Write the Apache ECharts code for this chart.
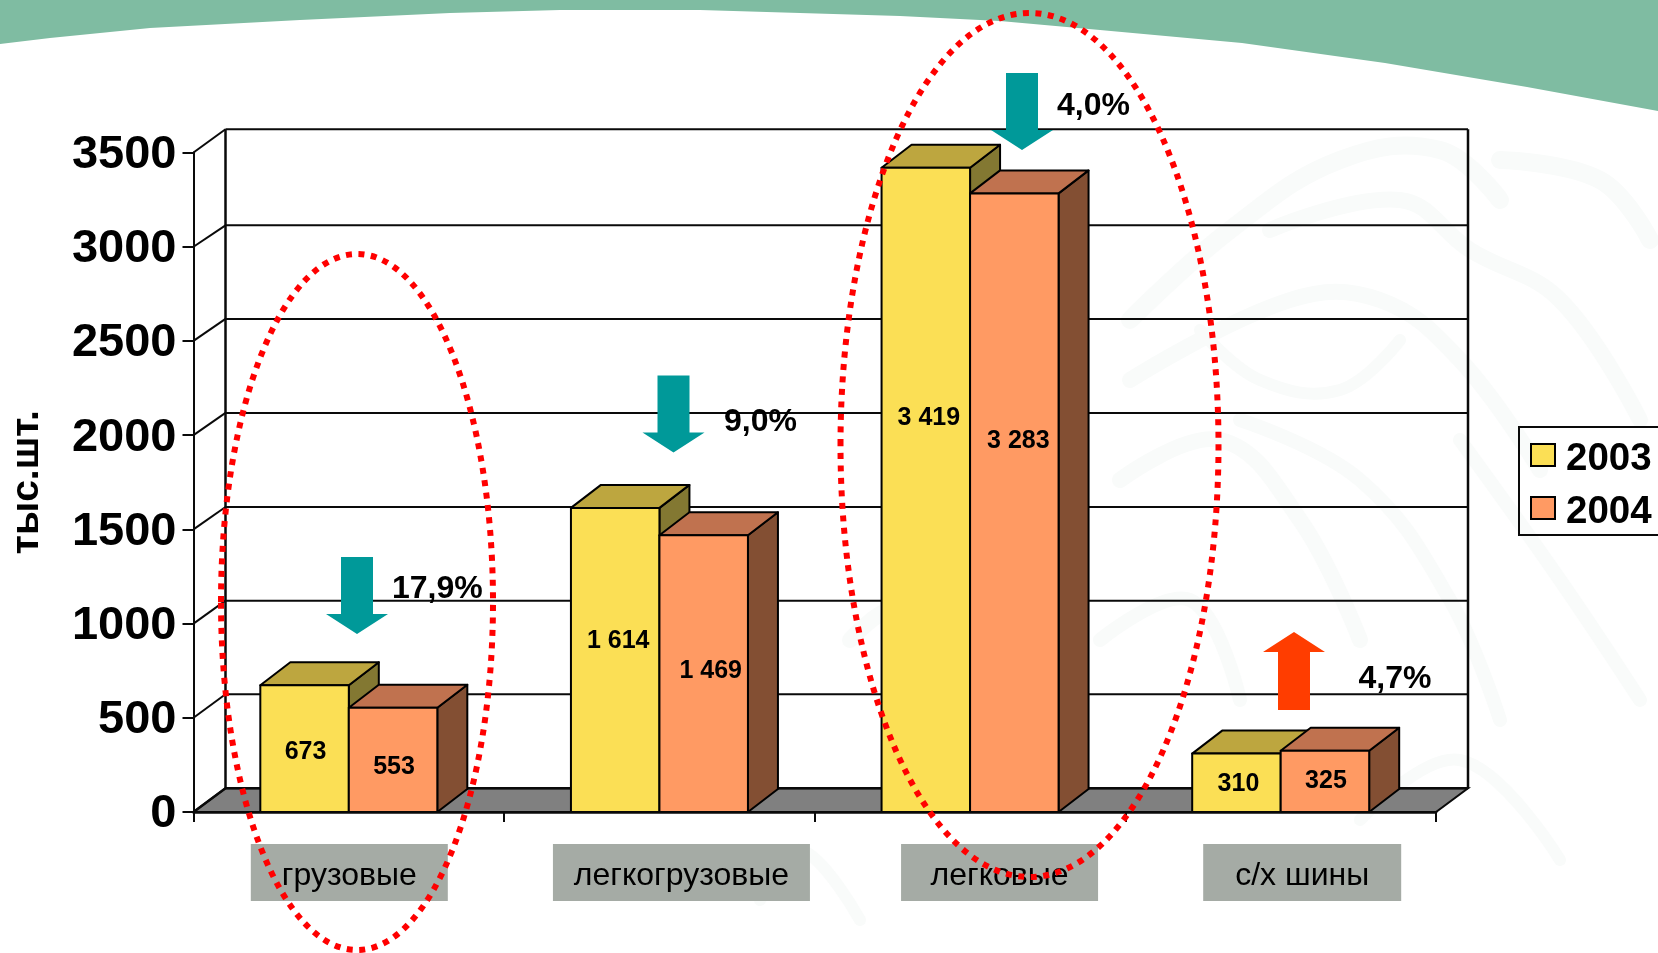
<!DOCTYPE html>
<html>
<head>
<meta charset="utf-8">
<title>Шины</title>
<style>html,body{margin:0;padding:0;background:#fff;overflow:hidden}#chart{width:1658px;height:953px}</style>
<script src="https://cdn.jsdelivr.net/npm/echarts@6/dist/echarts.min.js"></script>
</head>
<body>
<div id="chart"></div>
<script>
// Tyre output by segment, thousand units
const categories = ['грузовые', 'легкогрузовые', 'легковые', 'с/х шины'];
const values2003 = [673, 1614, 3419, 310];
const values2004 = [553, 1469, 3283, 325];
const yTicks = [0, 500, 1000, 1500, 2000, 2500, 3000, 3500];
const changeLabels = ['17,9%', '9,0%', '4,0%', '4,7%'];

// Nudge of each value label away from its bar's centre, in pixels
const labelShiftY2003 = [3.5, -18.5, -71.5, 1.5];
const labelShiftY2004 = [7.5, -2, -61.5, 0];
const labelShiftX2003 = [1, 3, 3, 2];
const labelShiftX2004 = [1, 7, 4, 1];
// Category plates sit to the right of the band centres
const plateSpacer = [1, 44, 59, 43];
const plateWidth = [197, 257, 197, 198];
// How far each gridline climbs on its way to the back wall
const wallRise = [23.7, 23.5, 22.9, 22.4, 22.2, 22, 21.4, 23.2];

const FONT = '"Liberation Sans", Arial, sans-serif';
const BAR_W = 88.5, BAR_DX = 30, BAR_DY = 23;
const WALL_DX = 32;
const INK = '#0a0a0a';

function formatValue(v) {
  return String(v).replace(/\B(?=(\d{3})+$)/g, ' ');
}

// Floor, back wall and the receding gridlines
function renderWall(params, api) {
  const v = api.value(0);
  const cs = params.coordSys;
  const y = api.coord([0, v])[1];
  const left = cs.x, right = cs.x + cs.width;
  const rise = wallRise[params.dataIndex];
  const lineStyle = { stroke: INK, lineWidth: v === 0 ? 2.5 : 2, fill: null };
  const children = [];
  if (v === 0) {
    children.push({
      type: 'polygon',
      shape: { points: [[left, y], [right, y], [right + WALL_DX, y - rise], [left + WALL_DX, y - rise]] },
      style: { fill: '#808080', stroke: INK, lineWidth: 2 }
    });
    const top = cs.y - wallRise[wallRise.length - 1];
    children.push(
      { type: 'line', shape: { x1: left + WALL_DX, y1: top, x2: left + WALL_DX, y2: y - rise }, style: lineStyle },
      { type: 'line', shape: { x1: right + WALL_DX, y1: top, x2: right + WALL_DX, y2: y - rise }, style: lineStyle }
    );
  }
  children.push(
    { type: 'line', shape: { x1: left, y1: y, x2: left + WALL_DX, y2: y - rise }, style: lineStyle },
    { type: 'line', shape: { x1: left + WALL_DX, y1: y - rise, x2: right + WALL_DX, y2: y - rise }, style: lineStyle }
  );
  return { type: 'group', children };
}

// One extruded column; side = -1 for the left bar of a pair, 0 for the right
function barRenderer(side, face, topFace, sideFace, shiftX, shiftY) {
  return function (params, api) {
    const i = api.value(0), v = api.value(1);
    const [cx, yTop] = api.coord([i, v]);
    const yBase = api.coord([i, 0])[1];
    const x0 = cx + side * BAR_W, x1 = x0 + BAR_W;
    const edge = { stroke: '#000', lineWidth: 2, lineJoin: 'round' };
    return {
      type: 'group',
      children: [
        { type: 'polygon',
          shape: { points: [[x1, yBase], [x1 + BAR_DX, yBase - BAR_DY], [x1 + BAR_DX, yTop - BAR_DY], [x1, yTop]] },
          style: Object.assign({ fill: sideFace }, edge) },
        { type: 'polygon',
          shape: { points: [[x0, yTop], [x0 + BAR_DX, yTop - BAR_DY], [x1 + BAR_DX, yTop - BAR_DY], [x1, yTop]] },
          style: Object.assign({ fill: topFace }, edge) },
        { type: 'rect',
          shape: { x: x0, y: yTop, width: BAR_W, height: yBase - yTop },
          style: Object.assign({ fill: face }, edge) },
        { type: 'text',
          style: {
            text: formatValue(v), x: (x0 + x1) / 2 + shiftX[i], y: (yTop + yBase) / 2 + shiftY[i],
            align: 'center', verticalAlign: 'middle',
            font: 'bold 25px ' + FONT, fill: '#000'
          } }
      ]
    };
  };
}

// Block arrow given its centre, tail and tip
function blockArrow(cx, tail, tip, color) {
  const dir = tip > tail ? 1 : -1, neck = tip - dir * 20;
  return {
    type: 'polygon', z: 40, silent: true,
    shape: { points: [[cx - 16, tail], [cx + 16, tail], [cx + 16, neck], [cx + 31, neck], [cx, tip], [cx - 31, neck], [cx - 16, neck]] },
    style: { fill: color }
  };
}
function changeText(label, x, y) {
  return { type: 'text', z: 41, silent: true, x, y,
    style: { text: label, font: 'bold 32px ' + FONT, fill: '#000', align: 'left', verticalAlign: 'middle' } };
}
function dottedOval(cx, cy, rx, ry) {
  return { type: 'ellipse', z: 50, silent: true, shape: { cx, cy, rx, ry },
    style: { fill: null, stroke: '#ff0000', lineWidth: 6, lineDash: [6, 6.5] } };
}
function treadStroke(points, width) {
  return { type: 'polyline', z: -9, silent: true, shape: { points, smooth: 0.4 },
    style: { fill: null, stroke: '#f9fbfa', lineWidth: width, lineCap: 'round' } };
}

// Top green band of the slide, cut by a shallow arc
const bandEdge = [[0, 44], [50, 38], [150, 28], [300, 20], [450, 13], [560, 10], [700, 10], [800, 13], [900, 16],
  [1000, 21], [1100, 30], [1242, 43], [1385, 63], [1527, 87], [1658, 111]];

const plateRich = { };
categories.forEach((c, i) => {
  plateRich['s' + i] = { width: plateSpacer[i], height: 57, fontSize: 1 };
  plateRich['c' + i] = {
    width: plateWidth[i], height: 49, lineHeight: 49, padding: [8, 0, 0, 0], align: 'center',
    backgroundColor: '#A5ABA5', color: '#000', fontSize: 32, fontFamily: FONT
  };
});

const chart = echarts.init(document.getElementById('chart'), null, { renderer: 'canvas' });
chart.setOption({
  animation: false,
  backgroundColor: '#ffffff',
  textStyle: { fontFamily: FONT },
  grid: { left: 193.5, right: 222, top: 152.5, bottom: 141, containLabel: false, outerBoundsMode: 'none' },
  legend: {
    orient: 'vertical', left: 1519, top: 427,
    data: ['2003', '2004'], selectedMode: false,
    backgroundColor: 'rgba(255,255,255,0)', borderColor: INK, borderWidth: 2,
    padding: [13, 30, 3, 11], itemWidth: 24, itemHeight: 22, itemGap: 14,
    icon: 'rect',
    itemStyle: { borderColor: '#000', borderWidth: 2 },
    formatter: name => `{yr|${name}}`,
    textStyle: {
      rich: { yr: { fontFamily: FONT, fontWeight: 'bold', fontSize: 38.5, color: '#000', padding: [9, 0, 0, 6] } }
    }
  },
  xAxis: {
    type: 'category', data: categories,
    axisLine: { lineStyle: { color: INK, width: 2.5 } },
    axisTick: { show: true, length: 10, alignWithLabel: false, lineStyle: { color: INK, width: 2 } },
    axisLabel: {
      interval: 0, margin: 32, hideOverlap: false,
      formatter: (name, idx) => `{s${idx}|\u00a0}{c${idx}|${name}}`,
      rich: plateRich
    },
    splitLine: { show: false }, z: 4
  },
  yAxis: {
    type: 'value', min: 0, max: 3500, interval: 500,
    name: 'тыс.шт.', nameLocation: 'middle', nameRotate: 90, nameGap: 147,
    nameTextStyle: { fontFamily: FONT, fontWeight: 'bold', fontSize: 39, color: '#000' },
    axisLine: { show: true, lineStyle: { color: INK, width: 2 } },
    axisTick: { show: true, length: 11, lineStyle: { color: INK, width: 2 } },
    axisLabel: {
      margin: 17,
      formatter: v => `{t|${v}}`,
      rich: { t: { fontFamily: FONT, fontWeight: 'bold', fontSize: 47, color: '#000', padding: [5, 0, 0, 0] } }
    },
    splitLine: { show: false }, z: 4
  },
  series: [
    { name: 'стенка', type: 'custom', z: 1, silent: true, renderItem: renderWall,
      data: yTicks.map(v => [v]), encode: { y: 0 } },
    { name: '2003', type: 'custom', z: 3, silent: true,
      itemStyle: { color: '#FBDF55' },
      renderItem: barRenderer(-1, '#FBDF55', '#BDA63F', '#837832', labelShiftX2003, labelShiftY2003),
      data: values2003.map((v, i) => [i, v]), encode: { x: 0, y: 1 } },
    { name: '2004', type: 'custom', z: 4, silent: true,
      itemStyle: { color: '#FF9A63' },
      renderItem: barRenderer(0, '#FF9A63', '#C0724F', '#834F33', labelShiftX2004, labelShiftY2004),
      data: values2004.map((v, i) => [i, v]), encode: { x: 0, y: 1 } }
  ],
  graphic: { elements: [
    { type: 'polygon', z: -10, silent: true,
      shape: { points: [[0, 0]].concat(bandEdge, [[1658, 0]]) },
      style: { fill: '#7FBCA2' } },

    // Faint tread pattern behind the plot
    treadStroke([[1130, 320], [1230, 230], [1340, 160], [1440, 150], [1500, 200]], 18),
    treadStroke([[1270, 230], [1400, 200], [1470, 250], [1560, 300], [1640, 420]], 16),
    treadStroke([[1130, 380], [1290, 300], [1380, 300], [1460, 360], [1540, 470]], 16),
    treadStroke([[1500, 160], [1600, 180], [1650, 240]], 18),
    treadStroke([[1200, 330], [1260, 380], [1340, 390], [1400, 340]], 12),
    treadStroke([[1120, 480], [1220, 440], [1300, 520], [1360, 640]], 16),
    treadStroke([[1240, 420], [1360, 480], [1450, 600], [1500, 720]], 14),
    treadStroke([[1460, 440], [1560, 580], [1640, 700]], 14),
    treadStroke([[1100, 640], [1190, 600], [1240, 700]], 14),
    treadStroke([[1360, 820], [1460, 760], [1560, 860]], 12),
    treadStroke([[850, 640], [900, 610], [960, 700]], 16),
    treadStroke([[760, 900], [800, 850], [860, 920]], 12),

    blockArrow(357, 557, 634, '#009999'),
    blockArrow(673.5, 375.5, 452.5, '#009999'),
    blockArrow(1022, 73, 150, '#009999'),
    blockArrow(1294, 710, 632, '#FF3D00'),

    changeText(changeLabels[0], 392, 589),
    changeText(changeLabels[1], 724, 422),
    changeText(changeLabels[2], 1057, 106),
    changeText(changeLabels[3], 1358.5, 679),

    dottedOval(357, 602, 136, 348),
    dottedOval(1029.5, 445, 189, 432)
  ] }
});
</script>
</body>
</html>
